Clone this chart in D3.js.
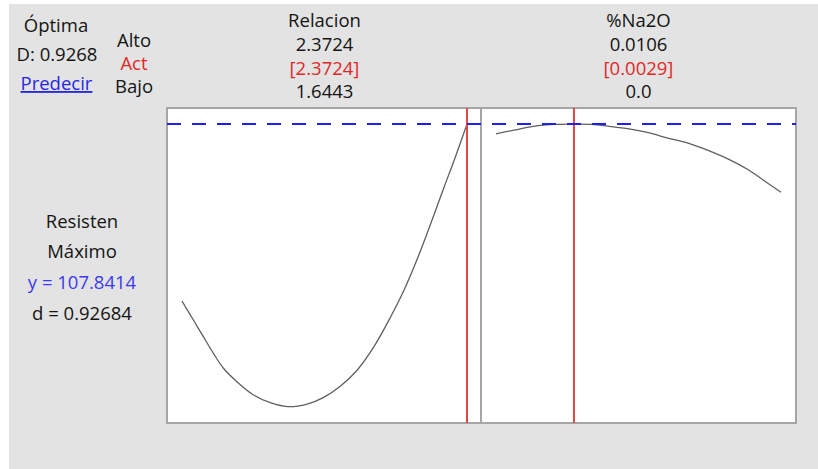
<!DOCTYPE html>
<html>
<head>
<meta charset="utf-8">
<script src="https://cdn.jsdelivr.net/npm/d3@7"></script>
<style>
  html, body { margin: 0; padding: 0; background: #fff; }
  svg { display: block; font-family: "Open Sans", "Noto Sans", sans-serif; }
</style>
</head>
<body>
<div class="chart"></div>
<script>
// factor header rows
var factors = ["Relacion", "%Na2O"];
var highs = ["2.3724", "0.0106"];
var acts = ["[2.3724]", "[0.0029]"];
var lows = ["1.6443", "0.0"];
var xDomains = [[1.6443, 2.3724], [0, 0.0106]];
var current = [2.3724, 0.0029];

// response at optimum
var yOpt = 107.8414;
var yDomain = [67.7, 110];

// Relacion profile
var relX = [1.6443, 1.6733, 1.6989, 1.7245, 1.7502, 1.7845, 1.8271, 1.8699, 1.9168, 1.9640, 2.0065,
            2.0494, 2.0922, 2.1347, 2.1775, 2.2116, 2.2460, 2.2801, 2.3142, 2.3399, 2.3724];
var relY = [84.08, 81.53, 79.29, 77.06, 75.05, 73.25, 71.46, 70.43, 69.89, 70.25, 71.15,
            72.67, 74.82, 77.95, 81.97, 85.56, 89.82, 94.52, 99.43, 103.02, 107.84];

// %Na2O profile
var naX = [0, 0.0007, 0.00157, 0.00219, 0.0029, 0.00356, 0.0043, 0.00505, 0.00567, 0.00642,
           0.00717, 0.00791, 0.00866, 0.0094, 0.01003, 0.0106];
var naY = [106.51, 107.05, 107.62, 107.80, 107.84, 107.80, 107.49, 107.14, 106.68, 105.93,
           105.26, 104.27, 103.11, 101.68, 100.10, 98.68];

var profiles = [
  relX.map(function(d, i){ return [d, relY[i]]; }),
  naX.map(function(d, i){ return [d, naY[i]]; })
];

var width = 818, height = 469;

var svg = d3.select(".chart").append("svg")
  .attr("width", width)
  .attr("height", height);

// light grey window area
svg.append("rect")
  .attr("x", 9).attr("y", 4)
  .attr("width", width - 9).attr("height", height - 4)
  .attr("fill", "#e3e3e3");

var plotTop = 108, plotBottom = 423;
var panelLefts = [167, 481], panelW = 315, pad = 15;

var y = d3.scaleLinear().domain(yDomain).range([plotBottom, plotTop]);

var fs = 18.5;
var ink = "#141414";

// left header block
var left = svg.append("g").style("font-size", fs + "px").attr("text-anchor", "middle");
left.append("text").attr("x", 56).attr("y", 32).attr("fill", ink).text("Óptima");
left.append("text").attr("x", 57).attr("y", 61).attr("fill", ink).text("D: 0.9268");
left.append("text").attr("x", 56.5).attr("y", 90).attr("fill", "#2626e6")
  .style("text-decoration", "underline").text("Predecir");
left.append("text").attr("x", 134).attr("y", 47).attr("fill", ink).text("Alto");
left.append("text").attr("x", 134).attr("y", 69.5).attr("fill", "#e02828").text("Act");
left.append("text").attr("x", 134).attr("y", 92.5).attr("fill", ink).text("Bajo");

// response block
left.append("text").attr("x", 82).attr("y", 228).attr("fill", ink).text("Resisten");
left.append("text").attr("x", 82).attr("y", 258).attr("fill", ink).text("Máximo");
left.append("text").attr("x", 82).attr("y", 289).attr("fill", "#3a3af0").text("y = " + yOpt);
left.append("text").attr("x", 82).attr("y", 320).attr("fill", ink).text("d = 0.92684");

factors.forEach(function(f, i){

  var x0 = panelLefts[i];
  var cx = x0 + panelW / 2;

  var x = d3.scaleLinear()
    .domain(xDomains[i])
    .range([x0 + pad, x0 + panelW - pad]);

  var hdr = svg.append("g").style("font-size", fs + "px").attr("text-anchor", "middle");
  hdr.append("text").attr("x", cx).attr("y", 27).attr("fill", ink).text(f);
  hdr.append("text").attr("x", cx).attr("y", 50.5).attr("fill", ink).text(highs[i]);
  hdr.append("text").attr("x", cx).attr("y", 74.5).attr("fill", "#e02828").text(acts[i]);
  hdr.append("text").attr("x", cx).attr("y", 98).attr("fill", ink).text(lows[i]);

  var panel = svg.append("g");

  panel.append("rect")
    .attr("x", x0).attr("y", plotTop)
    .attr("width", panelW).attr("height", plotBottom - plotTop)
    .attr("fill", "#fff")
    .attr("stroke", "#a6a6a6")
    .attr("stroke-width", 2);

  var line = d3.line()
    .x(function(d){ return x(d[0]); })
    .y(function(d){ return y(d[1]); })
    .curve(d3.curveCatmullRom);

  panel.append("path")
    .datum(profiles[i])
    .attr("d", line)
    .attr("fill", "none")
    .attr("stroke", "#5f5f5f")
    .attr("stroke-width", 1.3);

  // current setting
  panel.append("line")
    .attr("x1", x(current[i])).attr("x2", x(current[i]))
    .attr("y1", plotTop).attr("y2", plotBottom)
    .attr("stroke", "#e04848")
    .attr("stroke-width", 2);
});

// optimum response reference line across both panels
svg.append("line")
  .attr("x1", panelLefts[0]).attr("x2", panelLefts[1] + panelW)
  .attr("y1", y(yOpt)).attr("y2", y(yOpt))
  .attr("stroke", "#1f1fef")
  .attr("stroke-width", 2)
  .attr("stroke-dasharray", "14,11");
</script>
</body>
</html>
